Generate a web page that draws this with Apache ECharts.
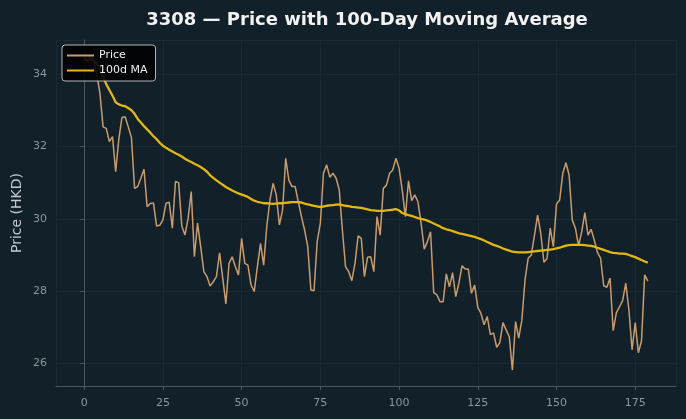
<!DOCTYPE html>
<html><head><meta charset="utf-8">
<script src="https://cdn.jsdelivr.net/npm/echarts@6/dist/echarts.min.js"></script>
<style>html,body{margin:0;padding:0;background:#112029;} #c{width:686px;height:419px;}</style>
</head><body><div id="c"></div>
<script>
const titleText = '3308 — Price with 100-Day Moving Average';
const yAxisName = 'Price (HKD)';
const seriesNames = ['Price', '100d MA'];
const xTickLabels = [0, 25, 50, 75, 100, 125, 150, 175];
const yTickLabels = [26, 28, 30, 32, 34];

const price = [
34.43,34.35,34.5,34.38,34.0,33.47,32.54,32.5,32.13,32.27,
31.3,32.2,32.8,32.82,32.54,32.25,30.84,30.89,31.12,31.37,
30.33,30.42,30.44,29.8,29.82,29.97,30.43,30.46,29.74,31.03,
31.0,29.8,29.55,30.01,30.75,28.95,29.88,29.23,28.54,28.4,
28.14,28.26,28.4,29.06,28.36,27.65,28.77,28.95,28.68,28.45,
29.46,28.77,28.72,28.17,27.99,28.68,29.32,28.72,29.8,30.52,
30.98,30.66,29.83,30.24,31.67,31.07,30.89,30.89,30.47,30.06,
29.69,29.23,28.03,28.01,29.37,29.88,31.26,31.49,31.15,31.26,
31.12,30.8,29.69,28.68,28.54,28.29,28.77,29.53,29.46,28.4,
28.94,28.95,28.54,30.06,29.55,30.84,30.93,31.26,31.35,31.67,
31.4,30.8,30.06,31.05,30.5,30.66,30.47,29.88,29.16,29.37,
29.64,27.96,27.9,27.71,27.71,28.48,28.12,28.51,27.85,28.22,
28.7,28.61,28.61,27.94,28.17,27.55,27.39,27.07,27.3,26.8,
26.85,26.45,26.58,27.13,26.93,26.74,25.82,27.16,26.7,27.2,
28.31,28.91,29.0,29.55,30.1,29.6,28.8,28.9,29.74,29.23,
30.41,30.52,31.26,31.55,31.21,29.97,29.74,29.25,29.64,30.17,
29.55,29.71,29.41,29.07,28.91,28.15,28.11,28.36,26.91,27.4,
27.57,27.74,28.22,27.48,26.38,27.13,26.3,26.63,28.45,28.28
];

const ma100 = [
34.43,34.38,34.4,34.38,34.3,34.15,33.93,33.72,33.56,33.4,
33.22,33.16,33.13,33.11,33.06,33.0,32.9,32.76,32.66,32.56,
32.47,32.38,32.28,32.2,32.1,32.02,31.96,31.91,31.86,31.81,
31.77,31.72,31.66,31.61,31.57,31.52,31.48,31.43,31.37,31.3,
31.2,31.13,31.06,31.0,30.94,30.88,30.83,30.78,30.74,30.7,
30.67,30.64,30.6,30.55,30.5,30.47,30.45,30.43,30.43,30.42,
30.41,30.42,30.43,30.43,30.44,30.45,30.46,30.46,30.46,30.45,
30.42,30.4,30.38,30.36,30.34,30.33,30.34,30.36,30.37,30.38,
30.39,30.4,30.38,30.36,30.35,30.33,30.32,30.31,30.3,30.28,
30.26,30.24,30.23,30.22,30.22,30.22,30.23,30.24,30.25,30.27,
30.23,30.16,30.13,30.1,30.08,30.05,30.02,30.0,29.98,29.95,
29.91,29.87,29.83,29.79,29.74,29.71,29.69,29.66,29.63,29.6,
29.58,29.56,29.54,29.52,29.5,29.47,29.44,29.4,29.36,29.32,
29.28,29.25,29.22,29.18,29.15,29.12,29.09,29.08,29.07,29.07,
29.07,29.08,29.09,29.1,29.11,29.12,29.13,29.14,29.15,29.16,
29.18,29.2,29.23,29.26,29.27,29.28,29.28,29.28,29.28,29.27,
29.26,29.25,29.23,29.2,29.17,29.14,29.11,29.08,29.06,29.05,
29.04,29.04,29.03,29.0,28.97,28.94,28.9,28.86,28.82,28.79
];

const days = price.map((_, i) => i);

const chart = echarts.init(document.getElementById('c'), null, {renderer: 'canvas'});
const font = 'DejaVu Sans';
const axisCol = '#4d575c';
const gridCol = '#1a2a32';
const labelCol = '#8d979b';

chart.setOption({
  backgroundColor: '#112029',
  animation: false,
  textStyle: {fontFamily: font},
  title: {
    text: titleText,
    left: 362, top: 6, textAlign: 'center',
    textStyle: {color: '#f2f2f2', fontSize: 18, fontWeight: 'bold', fontFamily: font}
  },
  legend: {
    data: seriesNames,
    orient: 'vertical',
    left: 62, top: 45,
    padding: [5, 8, 5, 4],
    itemGap: 4,
    itemWidth: 27, itemHeight: 11,
    itemStyle: {opacity: 0},
    backgroundColor: 'rgba(0,0,0,0.88)',
    borderColor: '#b5b5b5', borderWidth: 1, borderRadius: 3,
    textStyle: {color: '#eeeeee', fontSize: 11, fontFamily: font}
  },
  grid: {left: 56, right: 10, top: 40, bottom: 33, containLabel: false, outerBoundsMode: 'none'},
  xAxis: {
    type: 'value',
    min: -8.95, max: 187.95,
    minInterval: 25, maxInterval: 25,
    axisLine: {show: true, lineStyle: {color: axisCol, width: 1}},
    axisTick: {show: true, length: 4, lineStyle: {color: axisCol}},
    axisLabel: {
      color: labelCol, fontSize: 11, fontFamily: font, margin: 12,
      showMinLabel: false, showMaxLabel: false,
      formatter: v => xTickLabels.includes(v) ? String(v) : ''
    },
    splitLine: {show: true, lineStyle: {color: gridCol, width: 1}}
  },
  yAxis: {
    type: 'value',
    min: 25.38, max: 34.94,
    minInterval: 2, maxInterval: 2,
    name: yAxisName,
    nameLocation: 'middle', nameGap: 32, nameRotate: 90,
    nameMoveOverlap: false,
    nameTextStyle: {color: '#c3c9cc', fontSize: 14, fontFamily: font},
    axisLine: {show: true, lineStyle: {color: axisCol, width: 1}},
    axisTick: {show: true, length: 4, lineStyle: {color: axisCol}},
    axisLabel: {
      color: labelCol, fontSize: 11, fontFamily: font, margin: 9,
      showMinLabel: false, showMaxLabel: false,
      formatter: v => yTickLabels.includes(v) ? String(v) : ''
    },
    splitLine: {show: true, lineStyle: {color: gridCol, width: 1}}
  },
  series: [
    {
      name: seriesNames[0], type: 'line', symbol: 'none',
      data: days.map((d, i) => [d, price[i]]),
      lineStyle: {color: '#c99c6e', width: 1.5},
      itemStyle: {color: '#c99c6e'},
      z: 2
    },
    {
      name: seriesNames[1], type: 'line', symbol: 'none', smooth: false,
      data: days.map((d, i) => [d, ma100[i]]),
      lineStyle: {color: '#e2b70f', width: 2.3},
      itemStyle: {color: '#e2b70f'},
      z: 3
    }
  ]
});
</script>
</body></html>
